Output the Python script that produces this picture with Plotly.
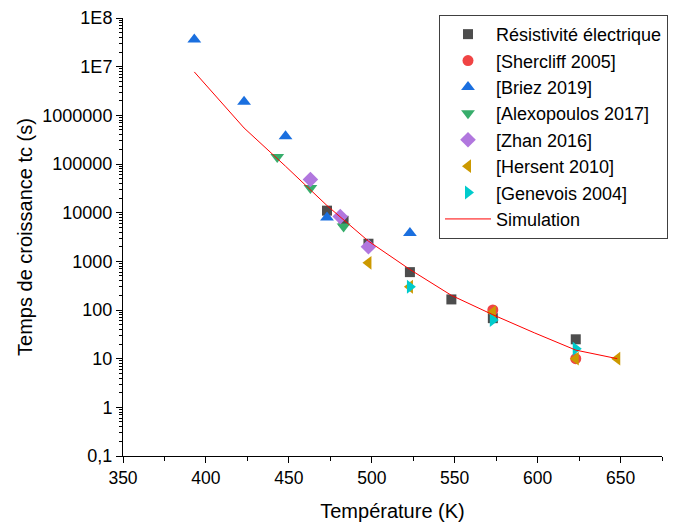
import plotly.graph_objects as go

# ---- data ----
res_T = [473, 483, 498, 523, 548, 573, 623]
res_t = [11000, 6800, 2300, 600, 165, 68, 25]

sher_T = [573, 623]
sher_t = [100, 10]

briez_T = [393, 423, 448, 473, 523]
briez_t = [3.6e7, 1.9e6, 3.7e5, 8000, 3800]

alex_T = [443, 463, 483]
alex_t = [140000, 32000, 5200]

zhan_T = [463, 481, 498]
zhan_t = [48000, 8300, 2000]

hers_T = [498, 523, 573, 623, 648]
hers_t = [930, 300, 90, 10, 10]

gene_T = [523, 573, 623]
gene_t = [300, 62, 16]

sim_T = [393, 423, 448, 473, 498, 523, 548, 573, 598, 623, 648]
sim_t = [7.8e6, 5.5e5, 9.0e4, 1.4e4, 2.6e3, 680, 200, 80, 34, 15, 10]

ytick_vals = [0.1, 1, 10, 100, 1000, 10000, 100000, 1000000, 1e7, 1e8]
ytick_text = ["0,1", "1", "10", "100", "1000", "10000", "100000", "1000000", "1E7", "1E8"]
xtick_vals = [350, 400, 450, 500, 550, 600, 650]
xminor_vals = [375, 425, 475, 525, 575, 625, 675]

FONT = "Liberation Sans, Arial, sans-serif"

fig = go.Figure()

def add_marker(x, y, name, symbol, color, size=11):
    fig.add_trace(go.Scatter(
        x=x, y=y, mode="markers", name=name,
        marker=dict(symbol=symbol, color=color, size=size, line=dict(width=0)),
    ))

add_marker(res_T, res_t, "Résistivité électrique", "square", "#4d4d4d", 10)
add_marker(sher_T, sher_t, "[Shercliff 2005]", "circle", "#f04444", 11)
add_marker(briez_T, briez_t, "[Briez 2019]", "triangle-up", "#1a6fdf", 12)
add_marker(alex_T, alex_t, "[Alexopoulos 2017]", "triangle-down", "#37ad6b", 12)
add_marker(zhan_T, zhan_t, "[Zhan 2016]", "diamond", "#b177de", 12)
add_marker(hers_T, hers_t, "[Hersent 2010]", "triangle-left", "#cc9900", 12)
add_marker(gene_T, gene_t, "[Genevois 2004]", "triangle-right", "#00cbcc", 12)

fig.add_trace(go.Scatter(
    x=sim_T, y=sim_t, mode="lines", name="Simulation",
    line=dict(color="#ff0000", width=1),
))

# minor ticks on log axis (2..9 per decade)
ymin = [m * 10.0 ** e for e in range(-1, 8) for m in range(2, 10)]

fig.update_layout(
    width=681, height=526,
    margin=dict(l=123, r=19, t=18, b=70, autoexpand=False),
    paper_bgcolor="white", plot_bgcolor="white",
    font=dict(family=FONT, color="black", size=18),
    showlegend=True,
    legend=dict(
        x=(439 - 123) / 539, xanchor="left",
        y=1.007, yanchor="top",
        bordercolor="#404040", borderwidth=1,
        bgcolor="white",
        font=dict(family=FONT, size=18, color="black"),
        itemwidth=46,
        tracegroupgap=0,
    ),
    xaxis=dict(
        range=[350, 675], tickvals=xtick_vals,
        showline=True, linecolor="black", linewidth=1,
        ticks="outside", ticklen=6, tickcolor="black",
        showgrid=False, zeroline=False, mirror=False,
        tickfont=dict(size=17.5),
        title=dict(text="Température (K)", font=dict(size=20), standoff=16),
        minor=dict(tickvals=xminor_vals, ticks="outside", ticklen=4, tickcolor="black", showgrid=False),
    ),
    yaxis=dict(
        type="log", range=[-1, 8],
        tickvals=ytick_vals, ticktext=ytick_text,
        showline=True, linecolor="black", linewidth=1,
        ticks="outside", ticklen=6, tickcolor="black",
        showgrid=False, zeroline=False, mirror=False,
        tickfont=dict(size=18),
        title=dict(text="Temps de croissance tc (s)", font=dict(size=20), standoff=4),
        minor=dict(tickvals=ymin, ticks="outside", ticklen=3, tickcolor="black", showgrid=False),
    ),
)

fig.write_html(
    "out.html",
    config={"displayModeBar": False},
    post_script="document.body.style.margin='0';document.body.style.padding='0';",
)
